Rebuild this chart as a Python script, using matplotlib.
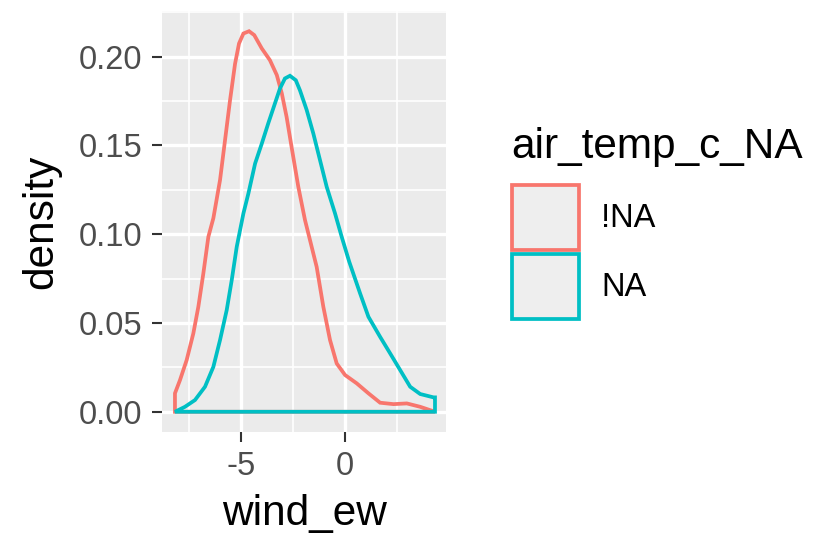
import matplotlib.pyplot as plt
from matplotlib.patches import Patch
from matplotlib.ticker import MultipleLocator

# Valores (curvas de densidade de wind_ew)
x_na_not = [-8.15, -8.15, -7.91, -7.59, -7.27, -7.03, -6.79, -6.55, -6.31, -5.99, -5.75,
            -5.51, -5.27, -5.08, -4.87, -4.6, -4.35, -3.99, -3.6, -3.27, -3.03, -2.8,
            -2.56, -2.24, -1.92, -1.68, -1.36, -1.04, -0.72, -0.4, 0.0, 0.56, 1.12,
            1.68, 2.32, 2.96, 3.6, 4.31]
y_na_not = [0.0, 0.0104, 0.0178, 0.0291, 0.0441, 0.0591, 0.0779, 0.0985, 0.109, 0.1305, 0.153,
            0.1755, 0.196, 0.2074, 0.213, 0.2143, 0.2121, 0.2046, 0.198, 0.1896, 0.1793, 0.166,
            0.149, 0.1267, 0.108, 0.0967, 0.0816, 0.0591, 0.0404, 0.0272, 0.0207, 0.016, 0.0104,
            0.0051, 0.0043, 0.0047, 0.0028, 0.0]

x_na = [-8.15, -7.67, -7.19, -6.71, -6.31, -5.99, -5.67, -5.43, -5.19, -4.87, -4.63, -4.31,
        -3.99, -3.68, -3.36, -3.12, -2.88, -2.64, -2.36, -2.16, -1.84, -1.52, -1.2, -0.88,
        -0.48, -0.16, 0.2, 0.72, 1.12, 1.68, 2.16, 2.64, 3.12, 3.6, 4.24, 4.31, 4.31]
y_na = [0.0, 0.0028, 0.0066, 0.0141, 0.0253, 0.0404, 0.0573, 0.0741, 0.0929, 0.1117, 0.123,
        0.1398, 0.151, 0.1624, 0.1736, 0.182, 0.1877, 0.1892, 0.1867, 0.181, 0.17, 0.1567,
        0.1417, 0.1267, 0.1117, 0.0985, 0.0845, 0.0667, 0.0535, 0.0422, 0.0329, 0.0235,
        0.0141, 0.01, 0.0081, 0.0081, 0.0]

grupos = ["!NA", "NA"]
cores = ["#F8766D", "#00BFC4"]

fonte = "Liberation Sans"

fig = plt.figure(figsize=(8.15, 5.35), dpi=100)
ax = fig.add_axes([0.1988, 0.1925, 0.3485, 0.787])
ax.set_facecolor("#EBEBEB")

# Grade estilo ggplot
ax.set_axisbelow(True)
ax.xaxis.set_major_locator(MultipleLocator(5))
ax.xaxis.set_minor_locator(MultipleLocator(2.5))
ax.yaxis.set_major_locator(MultipleLocator(0.05))
ax.yaxis.set_minor_locator(MultipleLocator(0.025))
ax.grid(which="major", color="white", linewidth=2.4)
ax.grid(which="minor", color="white", linewidth=1.2)
ax.tick_params(which="minor", length=0)
ax.tick_params(which="major", length=7, width=1.5, color="#333333", labelcolor="#4D4D4D",
               labelsize=23.5, pad=7)
for lado in ax.spines.values():
    lado.set_visible(False)

# Curvas de densidade (polígonos fechados pela linha de base)
ax.fill(x_na_not, y_na_not, facecolor="none", edgecolor=cores[0], linewidth=2.7)
ax.fill(x_na, y_na, facecolor="none", edgecolor=cores[1], linewidth=2.7)

ax.set_xlim(-8.77, 4.84)
ax.set_ylim(-0.0114, 0.2257)
ax.set_yticks([0.0, 0.05, 0.10, 0.15, 0.20])
ax.set_yticklabels(["0.00", "0.05", "0.10", "0.15", "0.20"])
ax.set_xticks([-5, 0])
ax.set_xticklabels(["-5", "0"])

for rotulo in ax.get_xticklabels() + ax.get_yticklabels():
    rotulo.set_family(fonte)

ax.set_xlabel("wind_ew", fontsize=30.5, family=fonte, labelpad=8.5)
ax.set_ylabel("density", fontsize=30.5, family=fonte, labelpad=13)

# Legenda: título como texto, entradas com caixas
fig.text(511.7 / 815, 1 - 158 / 535, "air_temp_c_NA", fontsize=30.5, family=fonte,
         ha="left", va="baseline")
handles = [Patch(facecolor="#EEEEEE", edgecolor=c, linewidth=2.7) for c in cores]
fig.legend(handles, grupos, loc="upper left",
           bbox_to_anchor=(511.7 / 815, 1 - 185 / 535), frameon=False,
           prop={"family": fonte, "size": 23.5},
           handlelength=2.05, handleheight=2.69, labelspacing=0.12,
           handletextpad=0.69, borderpad=0, borderaxespad=0)

plt.savefig("out.png", dpi=100)
plt.close()
